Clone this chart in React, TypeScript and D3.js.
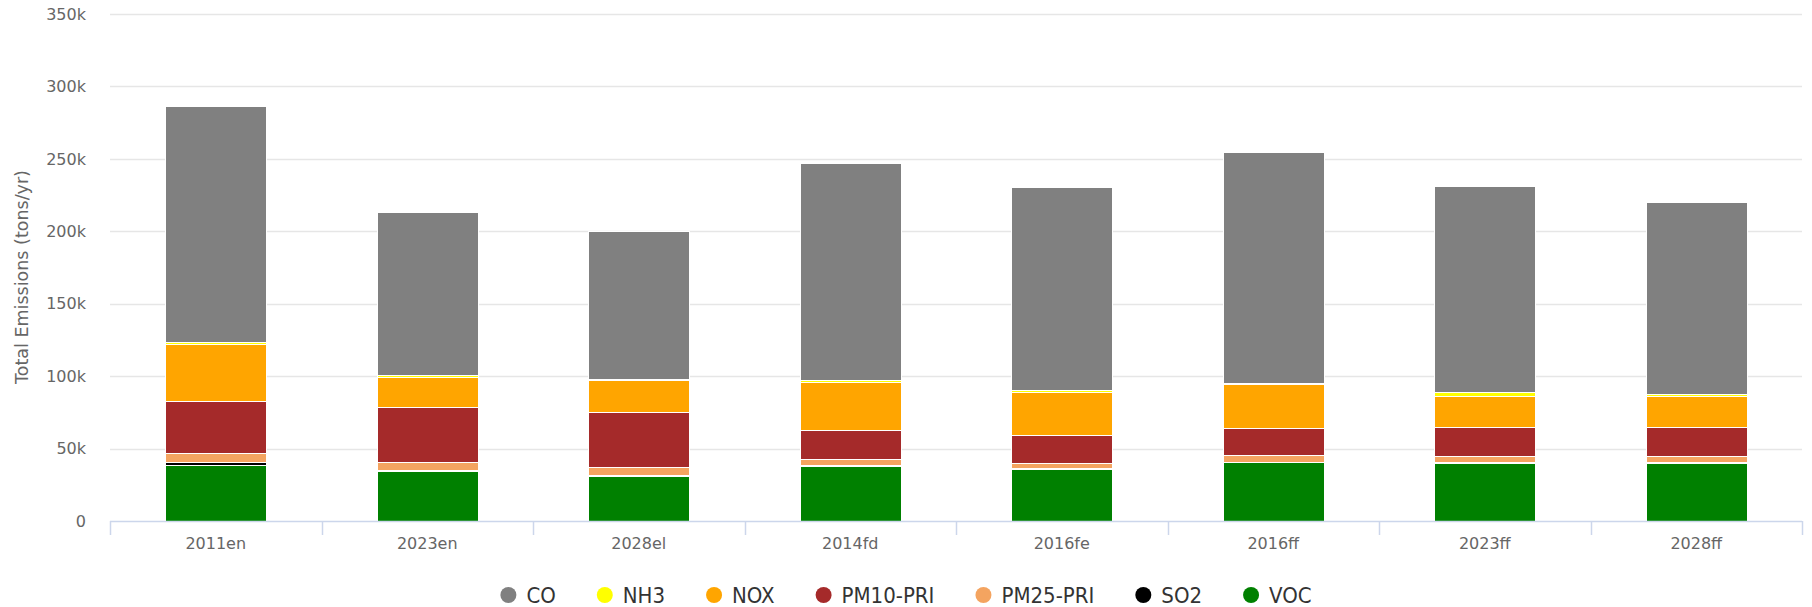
import React, { useRef, useEffect } from "react";
import * as d3 from "d3";

const categories = ["2011en", "2023en", "2028el", "2014fd", "2016fe", "2016ff", "2023ff", "2028ff"];

// series in legend order (first one sits on top of the stack)
const seriesNames = ["CO", "NH3", "NOX", "PM10-PRI", "PM25-PRI", "SO2", "VOC"];
const seriesColors = ["#808080", "#ffff00", "#ffa500", "#a52a2a", "#f4a460", "#000000", "#008000"];

const coValues = [163000, 113000, 102000, 150000, 140500, 159500, 142000, 133000];
const nh3Values = [1200, 1000, 1000, 1000, 1000, 1000, 2500, 1000];
const noxValues = [39500, 21000, 22000, 33500, 30000, 30000, 21500, 21500];
const pm10Values = [36000, 38000, 38000, 20000, 19500, 19000, 20000, 20000];
const pm25Values = [6000, 5500, 5500, 4000, 3500, 4500, 4500, 4500];
const so2Values = [2500, 500, 500, 500, 500, 500, 500, 500];
const vocValues = [38500, 34500, 31000, 38000, 35800, 40500, 40000, 40000];

const yTicks = [0, 50000, 100000, 150000, 200000, 250000, 300000, 350000];

const CHART = {
  width: 1812,
  height: 607,
  margin: { top: 14, right: 10, bottom: 86, left: 110 },
  barFraction: 0.478,
  font: "'DejaVu Sans', 'Lucida Grande', sans-serif",
  legendFont: "'DejaVu Sans Condensed', 'DejaVu Sans', sans-serif",
  axisFontSize: 16,
  titleFontSize: 17.5,
  legendFontSize: 22,
  legendGap: 49,
  gridColor: "#e6e6e6",
  axisColor: "#ccd6eb",
  labelColor: "#666666",
  legendColor: "#333333",
};

const App = () => {
  const ref = useRef<SVGSVGElement | null>(null);

  useEffect(() => {
    document.body.style.margin = "0";
    const svgEl = ref.current;
    if (!svgEl) return;
    const svg = d3.select(svgEl);
    svg.selectAll("*").remove();

    const { width, margin } = CHART;
    const plotBottom = 521;
    const plotRight = 1802;

    const table = categories.map((c, i) => ({
      category: c,
      CO: coValues[i],
      NH3: nh3Values[i],
      NOX: noxValues[i],
      "PM10-PRI": pm10Values[i],
      "PM25-PRI": pm25Values[i],
      SO2: so2Values[i],
      VOC: vocValues[i],
    }));

    const x = d3.scaleBand().domain(categories).range([margin.left, plotRight]).padding(0);
    const y = d3.scaleLinear().domain([0, 350000]).range([plotBottom, margin.top]);
    const color = d3.scaleOrdinal<string, string>().domain(seriesNames).range(seriesColors);

    // gridlines
    svg
      .append("g")
      .selectAll("line")
      .data(yTicks.filter((t) => t > 0))
      .join("line")
      .attr("x1", margin.left)
      .attr("x2", plotRight)
      .attr("y1", (d) => Math.round(y(d)) + 0.5)
      .attr("y2", (d) => Math.round(y(d)) + 0.5)
      .attr("stroke", CHART.gridColor)
      .attr("stroke-width", 1.5);

    // y labels
    const fmt = (v: number) => (v === 0 ? "0" : `${v / 1000}k`);
    svg
      .append("g")
      .selectAll("text")
      .data(yTicks)
      .join("text")
      .attr("x", 86)
      .attr("y", (d) => y(d))
      .attr("dy", "0.36em")
      .attr("text-anchor", "end")
      .attr("font-family", CHART.font)
      .attr("font-size", CHART.axisFontSize)
      .attr("fill", CHART.labelColor)
      .text(fmt);

    // y title
    svg
      .append("text")
      .attr("transform", `translate(22,277) rotate(-90)`)
      .attr("text-anchor", "middle")
      .attr("dy", "0.35em")
      .attr("font-family", CHART.font)
      .attr("font-size", CHART.titleFontSize)
      .attr("fill", CHART.labelColor)
      .text("Total Emissions (tons/yr)");

    // stacked bars
    const stack = d3.stack<any>().keys([...seriesNames].reverse());
    const layers = stack(table);
    const barW = Math.round(x.bandwidth() * CHART.barFraction);

    svg
      .append("g")
      .selectAll("g")
      .data(layers)
      .join("g")
      .attr("fill", (d) => color(d.key))
      .selectAll("rect")
      .data((d) => d.map((p) => ({ p, key: d.key })))
      .join("rect")
      .attr("x", (d) => Math.round(x(d.p.data.category)! + (x.bandwidth() - barW) / 2) + 0.5)
      .attr("y", (d) => Math.round(y(d.p[1])) + 0.5)
      .attr("width", barW)
      .attr("height", (d) => Math.max(0, Math.round(y(d.p[0])) - Math.round(y(d.p[1]))))
      .attr("stroke", "#ffffff")
      .attr("stroke-width", 1);

    // x axis
    const xAxis = svg.append("g");
    xAxis
      .append("line")
      .attr("x1", margin.left)
      .attr("x2", plotRight)
      .attr("y1", plotBottom + 0.5)
      .attr("y2", plotBottom + 0.5)
      .attr("stroke", CHART.axisColor)
      .attr("stroke-width", 1.5);
    const boundaries = [...categories.map((c) => x(c)!), plotRight];
    xAxis
      .selectAll("line.tick")
      .data(boundaries)
      .join("line")
      .attr("class", "tick")
      .attr("x1", (d) => Math.round(d) + 0.5)
      .attr("x2", (d) => Math.round(d) + 0.5)
      .attr("y1", plotBottom)
      .attr("y2", plotBottom + 14)
      .attr("stroke", CHART.axisColor)
      .attr("stroke-width", 1.5);
    xAxis
      .selectAll("text")
      .data(categories)
      .join("text")
      .attr("x", (d) => x(d)! + x.bandwidth() / 2)
      .attr("y", 549)
      .attr("text-anchor", "middle")
      .attr("font-family", CHART.font)
      .attr("font-size", CHART.axisFontSize)
      .attr("fill", CHART.labelColor)
      .text((d) => d);

    // legend
    const legend = svg.append("g");
    const items = legend.selectAll("g").data(seriesNames).join("g");
    items
      .append("circle")
      .attr("r", 8)
      .attr("fill", (d) => color(d));
    items
      .append("text")
      .attr("x", 18)
      .attr("dy", "0.36em")
      .attr("font-family", CHART.legendFont)
      .attr("font-size", CHART.legendFontSize)
      .attr("fill", CHART.legendColor)
      .text((d) => d);

    let offset = 0;
    const positions: number[] = [];
    items.each(function () {
      positions.push(offset);
      const t = d3.select(this).select("text").node() as SVGTextElement;
      offset += 18 + t.getComputedTextLength() + CHART.legendGap;
    });
    const total = offset - CHART.legendGap + 8;
    const start = width / 2 - total / 2 + 8;
    items.attr("transform", (_, i) => `translate(${start + positions[i]},595)`);
  }, []);

  return <svg ref={ref} width={CHART.width} height={CHART.height} style={{ display: "block" }} />;
};

export default App;
